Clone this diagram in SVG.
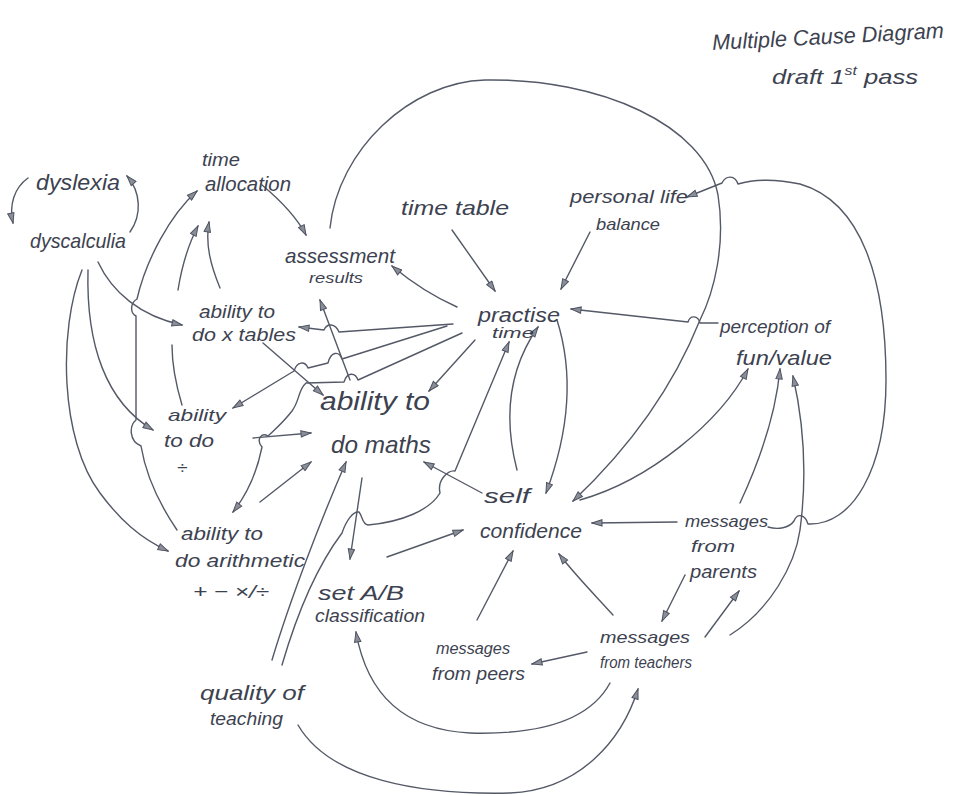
<svg xmlns="http://www.w3.org/2000/svg" width="956" height="796" viewBox="0 0 956 796">
  <defs>
    <marker id="arr" viewBox="0 0 12 8" refX="11" refY="4" markerWidth="12" markerHeight="8" markerUnits="userSpaceOnUse" orient="auto">
      <path d="M1,0.8 L11,4 L1,7.2 Z" fill="#8a8e98" stroke="#4e5361" stroke-width="1"/>
    </marker>
    <style>
      .lbl { font-family: "Liberation Sans", "DejaVu Sans", sans-serif; font-style: italic; fill: #3d4250; }
      .ln { fill: none; stroke: #545967; stroke-width: 1.4; stroke-linecap: round; stroke-linejoin: round; }
      .ar { marker-end: url(#arr); }
    </style>
  </defs>
  <rect width="956" height="796" fill="#ffffff"/>

  <!-- title -->
  <g id="title">
    <text class="lbl" x="712" y="44" font-size="22" textLength="232" lengthAdjust="spacingAndGlyphs" transform="rotate(-3 828 38)">Multiple Cause Diagram</text>
    <text class="lbl" x="772" y="84" font-size="21" textLength="146" lengthAdjust="spacingAndGlyphs">draft 1<tspan font-size="13" dy="-9">st</tspan><tspan dy="9"> pass</tspan></text>
  </g>

  <!-- connectors -->
  <g id="connectors">
    <path class="ln ar" d="M28,178 C14,188 9,205 13,223"/>
    <path class="ln ar" d="M130,232 C142,215 141,192 127,176"/>
    <path class="ln ar" d="M262,185 C280,200 296,216 306,235"/>
    <path class="ln ar" d="M98,262 C112,292 140,316 182,325"/>
    <path class="ln ar" d="M88,270 C86,345 106,402 153,430"/>
    <path class="ln ar" d="M82,270 C58,330 60,440 100,493 C120,520 140,538 168,551"/>
    <path class="ln ar" d="M177,530 C160,505 146,476 141,446 C129,441 129,426 136,420 L136,316 C130,313 130,303 137,299 C146,260 170,215 197,191"/>
    <path class="ln ar" d="M220,288 C211,266 205,245 209,222"/>
    <path class="ln" d="M182,405 C176,385 172,365 172,345"/>
    <path class="ln ar" d="M178,290 C182,265 188,245 198,226"/>
    <path class="ln ar" d="M263,343 L323,395"/>
    <path class="ln ar" d="M453,324 L339,332 C335,323 327,323 324,330 L299,327"/>
    <path class="ln ar" d="M447,326 L342,359 C339,351 331,351 328,363 L308,368 C305,361 297,361 294,371 L233,408"/>
    <path class="ln ar" d="M462,333 L358,380 C355,372 347,372 344,382 L306,383 C298,390 300,400 292,411 C282,424 274,430 268,436 C261,432 256,440 262,447 C257,472 249,492 233,512"/>
    <path class="ln ar" d="M350,380 L320,300"/>
    <path class="ln ar" d="M457,307 C430,295 410,281 392,266"/>
    <path class="ln ar" d="M452,230 L495,291"/>
    <path class="ln ar" d="M590,232 L561,289"/>
    <path class="ln ar" d="M718,323 L700,323 C698,315 690,315 688,322 L571,309"/>
    <path class="ln ar" d="M475,340 L429,391"/>
    <path class="ln ar" d="M282,665 C298,610 318,565 342,533 C346,521 353,511 359,512 C363,517 362,524 368,525 C402,522 430,510 440,493 C437,480 448,470 455,471 L509,342"/>
    <path class="ln ar" d="M557,320 C576,380 566,440 546,493"/>
    <path class="ln ar" d="M517,470 C504,420 508,370 538,327"/>
    <path class="ln ar" d="M330,228 C338,150 410,82 485,80 C600,78 705,125 718,195 C726,245 714,292 700,320 C672,390 625,452 573,501"/>
    <path class="ln ar" d="M768,527 C778,530 789,528 794,521 C797,513 805,514 808,524 C852,526 886,470 886,380 C886,280 862,202 800,184 C772,178 752,180 738,184 C735,175 726,175 722,183 L687,197"/>
    <path class="ln ar" d="M730,635 C770,610 795,565 800,530 C808,470 803,420 793,376"/>
    <path class="ln ar" d="M740,503 C760,460 776,412 780,369"/>
    <path class="ln ar" d="M580,500 C650,480 720,422 748,369"/>
    <path class="ln ar" d="M677,522 L592,523"/>
    <path class="ln ar" d="M685,575 L662,621"/>
    <path class="ln ar" d="M705,637 L739,591"/>
    <path class="ln ar" d="M613,615 C595,595 576,576 559,554"/>
    <path class="ln ar" d="M477,620 L513,551"/>
    <path class="ln ar" d="M587,652 L532,664"/>
    <path class="ln ar" d="M387,557 L463,530"/>
    <path class="ln ar" d="M610,683 C590,720 540,735 470,733 C410,730 368,700 356,632"/>
    <path class="ln ar" d="M298,725 C330,780 420,795 510,793 C580,790 622,740 638,689"/>
    <path class="ln ar" d="M253,438 L311,433"/>
    <path class="ln ar" d="M260,502 L311,462"/>
    <path class="ln ar" d="M482,493 L424,462"/>
    <path class="ln ar" d="M362,478 L350,559"/>
    <path class="ln ar" d="M272,660 C290,600 320,522 346,462"/>
  </g>

  <!-- nodes -->
  <g id="dyslexia"><text class="lbl" x="36" y="190" font-size="22" textLength="84" lengthAdjust="spacingAndGlyphs">dyslexia</text></g>
  <g id="dyscalculia"><text class="lbl" x="30" y="248" font-size="21" textLength="96" lengthAdjust="spacingAndGlyphs">dyscalculia</text></g>
  <g id="time-allocation">
    <text class="lbl" x="202" y="166" font-size="18" textLength="38" lengthAdjust="spacingAndGlyphs">time</text>
    <text class="lbl" x="205" y="191" font-size="20" textLength="86" lengthAdjust="spacingAndGlyphs">allocation</text>
  </g>
  <g id="assessment-results">
    <text class="lbl" x="285" y="263" font-size="21" textLength="110" lengthAdjust="spacingAndGlyphs">assessment</text>
    <text class="lbl" x="309" y="283" font-size="15" textLength="54" lengthAdjust="spacingAndGlyphs">results</text>
  </g>
  <g id="time-table"><text class="lbl" x="401" y="215" font-size="21" textLength="108" lengthAdjust="spacingAndGlyphs">time table</text></g>
  <g id="personal-life-balance">
    <text class="lbl" x="570" y="203" font-size="19" textLength="118" lengthAdjust="spacingAndGlyphs">personal life</text>
    <text class="lbl" x="596" y="230" font-size="17" textLength="64" lengthAdjust="spacingAndGlyphs">balance</text>
  </g>
  <g id="practise-time">
    <text class="lbl" x="478" y="322" font-size="20" textLength="82" lengthAdjust="spacingAndGlyphs">practise</text>
    <text class="lbl" x="492" y="338" font-size="14" textLength="42" lengthAdjust="spacingAndGlyphs">time</text>
  </g>
  <g id="perception-fun-value">
    <text class="lbl" x="720" y="333" font-size="19" textLength="110" lengthAdjust="spacingAndGlyphs">perception of</text>
    <text class="lbl" x="736" y="365" font-size="21" textLength="96" lengthAdjust="spacingAndGlyphs">fun/value</text>
  </g>
  <g id="ability-x-tables">
    <text class="lbl" x="199" y="318" font-size="19" textLength="76" lengthAdjust="spacingAndGlyphs">ability to</text>
    <text class="lbl" x="192" y="341" font-size="18" textLength="104" lengthAdjust="spacingAndGlyphs">do x tables</text>
  </g>
  <g id="ability-divide">
    <text class="lbl" x="168" y="421" font-size="17" textLength="58" lengthAdjust="spacingAndGlyphs">ability</text>
    <text class="lbl" x="164" y="447" font-size="18" textLength="50" lengthAdjust="spacingAndGlyphs">to do</text>
    <text class="lbl" x="177" y="474" font-size="19">÷</text>
  </g>
  <g id="ability-maths">
    <text class="lbl" x="320" y="410" font-size="26" textLength="110" lengthAdjust="spacingAndGlyphs">ability to</text>
    <text class="lbl" x="331" y="453" font-size="24" textLength="100" lengthAdjust="spacingAndGlyphs">do maths</text>
  </g>
  <g id="ability-arithmetic">
    <text class="lbl" x="181" y="540" font-size="19" textLength="82" lengthAdjust="spacingAndGlyphs">ability to</text>
    <text class="lbl" x="175" y="567" font-size="19" textLength="130" lengthAdjust="spacingAndGlyphs">do arithmetic</text>
    <text class="lbl" x="193" y="598" font-size="19" textLength="76" lengthAdjust="spacingAndGlyphs">+ − ×/÷</text>
  </g>
  <g id="self-confidence">
    <text class="lbl" x="484" y="503" font-size="20" textLength="46" lengthAdjust="spacingAndGlyphs">self</text>
    <text class="lbl" x="480" y="538" font-size="21" textLength="102" lengthAdjust="spacingAndGlyphs">confidence</text>
  </g>
  <g id="messages-parents">
    <text class="lbl" x="685" y="527" font-size="17" textLength="83" lengthAdjust="spacingAndGlyphs">messages</text>
    <text class="lbl" x="691" y="552" font-size="16" textLength="44" lengthAdjust="spacingAndGlyphs">from</text>
    <text class="lbl" x="690" y="578" font-size="18" textLength="67" lengthAdjust="spacingAndGlyphs">parents</text>
  </g>
  <g id="set-ab">
    <text class="lbl" x="318" y="600" font-size="20" textLength="86" lengthAdjust="spacingAndGlyphs">set A/B</text>
    <text class="lbl" x="315" y="622" font-size="19" textLength="110" lengthAdjust="spacingAndGlyphs">classification</text>
  </g>
  <g id="messages-peers">
    <text class="lbl" x="436" y="654" font-size="16" textLength="74" lengthAdjust="spacingAndGlyphs">messages</text>
    <text class="lbl" x="432" y="680" font-size="18" textLength="93" lengthAdjust="spacingAndGlyphs">from peers</text>
  </g>
  <g id="messages-teachers">
    <text class="lbl" x="600" y="643" font-size="17" textLength="90" lengthAdjust="spacingAndGlyphs">messages</text>
    <text class="lbl" x="600" y="668" font-size="16" textLength="92" lengthAdjust="spacingAndGlyphs">from teachers</text>
  </g>
  <g id="quality-teaching">
    <text class="lbl" x="200" y="700" font-size="21" textLength="104" lengthAdjust="spacingAndGlyphs">quality of</text>
    <text class="lbl" x="210" y="725" font-size="18" textLength="73" lengthAdjust="spacingAndGlyphs">teaching</text>
  </g>
</svg>
